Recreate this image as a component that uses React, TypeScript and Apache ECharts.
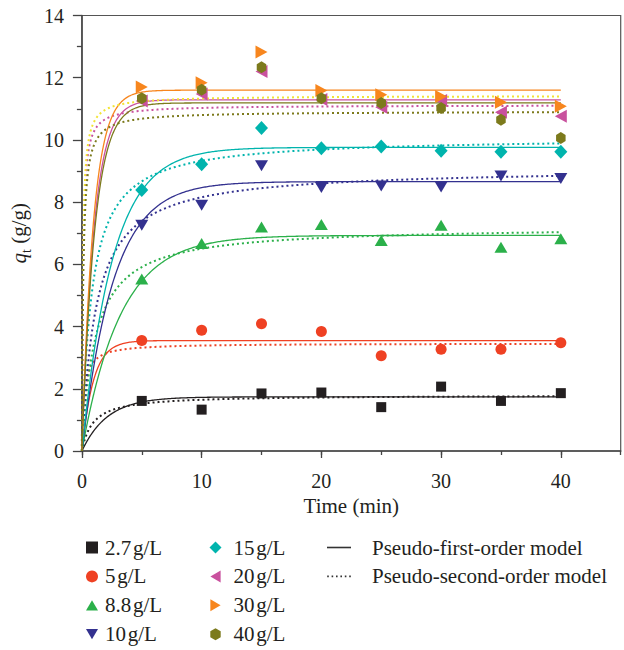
import React, { useEffect, useRef } from 'react';
import * as echarts from 'echarts';

// Sampling times (min)
const times = [5, 10, 15, 20, 25, 30, 35, 40];

// Measured adsorption capacity q_t (g/g) per dosage
const q_2_7 = [1.61, 1.33, 1.85, 1.88, 1.41, 2.07, 1.61, 1.86];
const q_5 = [3.55, 3.88, 4.09, 3.84, 3.06, 3.27, 3.27, 3.48];
const q_8_8 = [5.53, 6.67, 7.2, 7.28, 6.77, 7.26, 6.55, 6.82];
const q_10 = [7.26, 7.9, 9.17, 8.47, 8.52, 8.49, 8.84, 8.76];
const q_15 = [8.39, 9.22, 10.38, 9.73, 9.79, 9.65, 9.62, 9.62];
const q_20 = [11.25, 11.48, 12.2, 11.3, 11.05, 11.27, 10.89, 10.76];
const q_30 = [11.7, 11.84, 12.83, 11.59, 11.45, 11.4, 11.21, 11.08];
const q_40 = [11.34, 11.61, 12.34, 11.34, 11.19, 11.03, 10.65, 10.06];

const seriesNames = ['2.7\u200Ag/L', '5\u200Ag/L', '8.8\u200Ag/L', '10\u200Ag/L', '15\u200Ag/L', '20\u200Ag/L', '30\u200Ag/L', '40\u200Ag/L'];
const seriesValues = [q_2_7, q_5, q_8_8, q_10, q_15, q_20, q_30, q_40];

// Fitted model parameters
const pfoQe = [1.74, 3.55, 6.93, 8.66, 9.76, 11.29, 11.6, 11.19];
const pfoK = [0.47, 1.05, 0.31, 0.38, 0.39, 0.99, 1.04, 0.94];
const psoQe = [1.8, 3.46, 7.23, 9.1, 10.09, 11.12, 11.42, 10.92];
const psoK = [0.6, 1.4, 0.124, 0.095, 0.121, 1.08, 1.09, 0.82];

const modelNames = ['Pseudo-first-order model', 'Pseudo-second-order model'];

// Styles
const markerColors = ['#231f20', '#ef4123', '#2bb04a', '#33318f', '#00b4ad', '#c9519e', '#f7861e', '#7c7a1c'];
const psoColors = ['#231f20', '#ef4123', '#2bb04a', '#33318f', '#00b4ad', '#c9519e', '#f2e433', '#7c7a1c'];
const hexagon = 'path://M0,-1L0.866,-0.5L0.866,0.5L0,1L-0.866,0.5L-0.866,-0.5Z';
const markerSymbols = ['rect', 'circle', 'triangle', 'triangle', 'diamond', 'triangle', 'triangle', hexagon];
const markerRotates = [0, 0, 0, 180, 0, 90, -90, 0];
const markerSizes: any[] = [[10, 10], 11, [13, 11], [13, 11], [13, 14], [13, 12], [13, 12], [11, 12]];
const legendIcons = [
  'rect',
  'circle',
  'path://M1,0L2,1.7L0,1.7Z',
  'path://M0,0L2,0L1,1.7Z',
  'diamond',
  'path://M1.7,0L1.7,2L0,1Z',
  'path://M0,0L1.7,1L0,2Z',
  hexagon,
];

const solidIcon = 'path://M0,0H30V2H0Z';
const dottedIcon = 'path://M0,0h2v2h-2zM5.5,0h2v2h-2zM11,0h2v2h-2zM16.5,0h2v2h-2zM22,0h2v2h-2zM27.5,0h2v2h-2z';

const FONT = '"Liberation Serif", "Times New Roman", serif';

function curveTimes(): number[] {
  const ts: number[] = [];
  for (let i = 0; i <= 100; i++) ts.push(i * 0.02);
  for (let i = 21; i <= 400; i++) ts.push(i * 0.1);
  return ts;
}

export default function App() {
  const ref = useRef<HTMLDivElement>(null);
  useEffect(() => {
    if (!ref.current) return;
    const chart = echarts.init(ref.current, null, { renderer: 'svg' });
    const ts = curveTimes();

    const lineSeries: any[] = [];
    seriesNames.forEach((name, i) => {
      lineSeries.push({
        type: 'line',
        name: name + ' PFO',
        data: ts.map((t) => [t, pfoQe[i] * (1 - Math.exp(-pfoK[i] * t))]),
        showSymbol: false,
        symbol: 'none',
        lineStyle: { color: markerColors[i], width: 1.3 },
        itemStyle: { color: markerColors[i] },
        silent: true,
        z: 2,
      });
      lineSeries.push({
        type: 'line',
        name: name + ' PSO',
        data: ts.map((t) => [t, (psoQe[i] * psoQe[i] * psoK[i] * t) / (1 + psoQe[i] * psoK[i] * t)]),
        showSymbol: false,
        symbol: 'none',
        lineStyle: { color: psoColors[i], width: 2, type: [2, 3] },
        itemStyle: { color: psoColors[i] },
        silent: true,
        z: 2,
      });
    });

    const scatterSeries = seriesNames.map((name, i) => ({
      type: 'scatter',
      name,
      data: times.map((t, j) => [t, seriesValues[i][j]]),
      symbol: markerSymbols[i],
      symbolSize: markerSizes[i],
      symbolRotate: markerRotates[i],
      symbolKeepAspect: true,
      itemStyle: { color: markerColors[i], opacity: 1 },
      z: 3,
    }));

    const modelSeries = [
      { type: 'line', name: modelNames[0], data: [], symbol: 'none', lineStyle: { color: '#333', width: 1.3 }, itemStyle: { color: '#333' } },
      { type: 'line', name: modelNames[1], data: [], symbol: 'none', lineStyle: { color: '#333', width: 2, type: [2, 3] }, itemStyle: { color: '#333' } },
    ];

    const legendText = { fontFamily: FONT, fontSize: 21, color: '#231f20', lineHeight: 21 };
    const markerLegendData = (from: number, to: number) =>
      seriesNames.slice(from, to).map((name, k) => ({ name, icon: legendIcons[from + k] }));

    chart.setOption({
      animation: false,
      backgroundColor: '#fff',
      grid: {
        left: 81.6,
        right: 3.3,
        top: 15.5,
        bottom: 199,
        show: true,
        borderColor: '#555',
        borderWidth: 1.2,
        backgroundColor: 'transparent',
      },
      legend: [
        {
          data: markerLegendData(0, 4),
          orient: 'vertical',
          left: 81,
          top: 532,
          height: 140,
          itemWidth: 12,
          itemHeight: 12,
          itemGap: 7.9,
          selectedMode: false,
          textStyle: { ...legendText, padding: [0, 0, 0, 2] },
        },
        {
          data: markerLegendData(4, 8),
          orient: 'vertical',
          left: 204.5,
          top: 532,
          height: 140,
          itemWidth: 12,
          itemHeight: 12,
          itemGap: 7.9,
          selectedMode: false,
          textStyle: { ...legendText, padding: [0, 0, 0, 7] },
        },
        {
          data: [
            { name: modelNames[0], icon: solidIcon },
            { name: modelNames[1], icon: dottedIcon },
          ],
          orient: 'vertical',
          left: 322,
          top: 532,
          height: 140,
          itemWidth: 30,
          itemHeight: 1.6,
          itemGap: 7.9,
          selectedMode: false,
          itemStyle: { color: '#333', borderWidth: 0 },
          textStyle: { ...legendText, padding: [0, 0, 0, 13] },
        },
      ],
      xAxis: [
        {
          type: 'value',
          min: 0,
          max: 45,
          interval: 10,
          position: 'bottom',
          name: 'Time (min)',
          nameLocation: 'middle',
          nameGap: 43,
          nameTextStyle: { fontFamily: FONT, fontSize: 21, color: '#231f20' },
          axisLine: { show: true, lineStyle: { color: '#444', width: 1.5 } },
          axisTick: { show: true, inside: false, length: 7, lineStyle: { color: '#444', width: 1.3 } },
          axisLabel: {
            showMaxLabel: false,
            margin: 20,
            fontFamily: FONT,
            fontSize: 20,
            color: '#231f20',
            formatter: (v: number) => (v % 10 === 0 && v <= 40 ? String(v) : ''),
          },
          splitLine: { show: false },
        },
        {
          type: 'value',
          min: 0,
          max: 45,
          interval: 5,
          position: 'bottom',
          offset: 0,
          axisLine: { show: false },
          axisTick: { show: true, inside: false, length: 4, lineStyle: { color: '#444', width: 1.3 } },
          axisLabel: { show: false },
          splitLine: { show: false },
        },
      ],
      yAxis: {
        type: 'value',
        min: 0,
        max: 14,
        interval: 2,
        name: '{i|q}{s|t} (g/g)',
        nameLocation: 'middle',
        nameGap: 42,
        nameTextStyle: {
          fontFamily: FONT,
          fontSize: 21,
          color: '#231f20',
          rich: {
            i: { fontFamily: FONT, fontSize: 21, fontStyle: 'italic', color: '#231f20' },
            s: { fontFamily: FONT, fontSize: 14, color: '#231f20', verticalAlign: 'bottom', padding: [0, 0, -4, 0] },
          },
        },
        axisLine: { show: true, lineStyle: { color: '#444', width: 1.5 } },
        axisTick: { show: true, inside: false, length: 9, lineStyle: { color: '#444', width: 1.3 } },
        minorTick: { show: true, splitNumber: 2, length: 5, lineStyle: { color: '#444', width: 1.3 } },
        axisLabel: { margin: 18, fontFamily: FONT, fontSize: 20, color: '#231f20' },
        splitLine: { show: false },
        minorSplitLine: { show: false },
      },
      series: [...lineSeries, ...scatterSeries, ...modelSeries],
    });

    return () => chart.dispose();
  }, []);

  return <div ref={ref} style={{ position: 'fixed', left: 0, top: 0, width: 624, height: 650, background: '#fff' }} />;
}
